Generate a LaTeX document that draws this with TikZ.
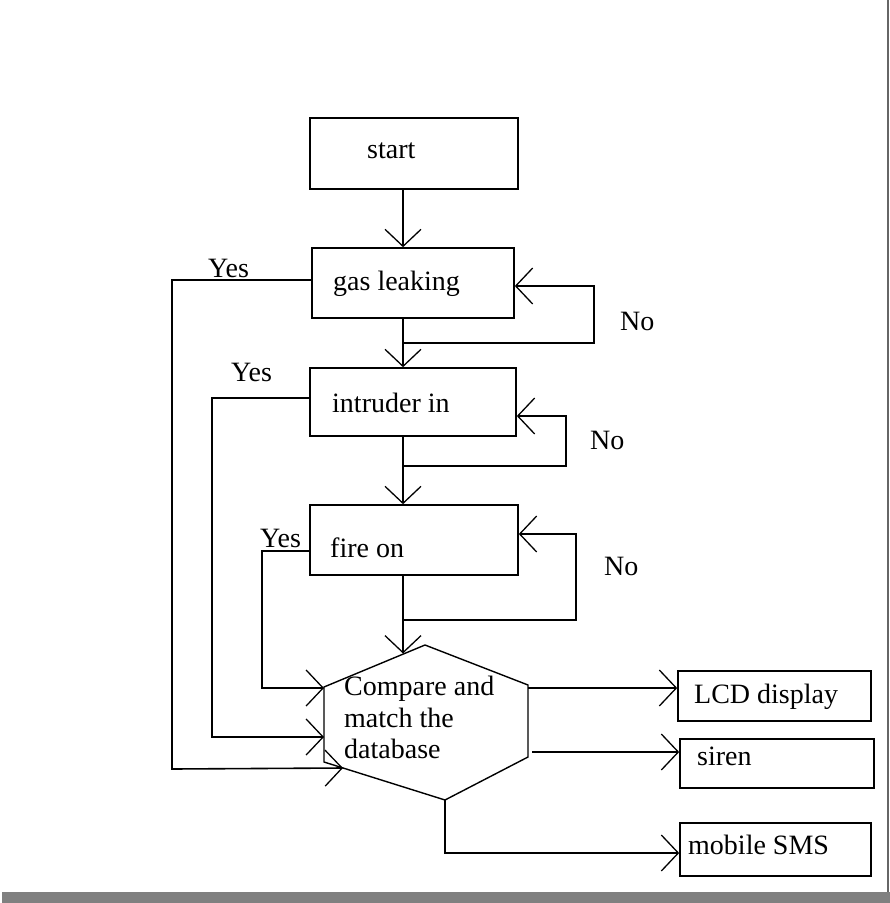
\documentclass[tikz,border=0pt]{standalone}
\usepackage{fontspec}
\setmainfont{Liberation Serif}
\usetikzlibrary{arrows.meta,calc}
\begin{document}
\begin{tikzpicture}[x=1pt,y=-1pt,
  line/.style={line width=1.6pt, draw=black},
  arr/.style={line, -{Straight Barb[length=17pt,width=36pt,line width=1.3pt]}},
  box/.style={draw=black, line width=1.6pt, rectangle, inner sep=0pt},
  txt/.style={anchor=base west, inner sep=0pt, font=\fontsize{28}{32}\selectfont}]
\useasboundingbox (0,0) rectangle (890,903);
\fill[white] (0,0) rectangle (890,903);
% frame bits
\fill[gray] (2,892) rectangle (890,903);
\draw[gray!80!black, line width=1.5pt] (888,0) -- (888,892);

% boxes
\node[box, minimum width=208pt, minimum height=71pt] (start) at (414,153.5) {};
\node[box, minimum width=202pt, minimum height=70pt] (gas) at (413,283) {};
\node[box, minimum width=206pt, minimum height=68pt] (intr) at (413,402) {};
\node[box, minimum width=208pt, minimum height=70pt] (fire) at (414,540) {};
\node[box, minimum width=193pt, minimum height=50pt] (lcd) at (774.5,696) {};
\node[box, minimum width=194pt, minimum height=49pt] (siren) at (777,763.5) {};
\node[box, minimum width=191pt, minimum height=53pt] (sms) at (775.5,849.5) {};

% texts
\node[txt] (tstart) at (367,158) {start};
\node[txt] (tgas) at (333,290) {gas leaking};
\node[txt] (tintr) at (332,412) {intruder in};
\node[txt] (tfire) at (330,557) {fire on};
\node[txt] (tlcd) at (694,703) {LCD display};
\node[txt] (tsiren) at (697,765) {siren};
\node[txt] (tsms) at (688,854) {mobile SMS};
\node[txt] (hex) at (344,695) {Compare and};
\node[txt] (hex2) at (344,727) {match the};
\node[txt] (hex3) at (344,758) {database};
\node[txt] (yes1) at (208,277) {Yes};
\node[txt] (yes2) at (231,381) {Yes};
\node[txt] (yes3) at (260,547) {Yes};
\node[txt] (no1) at (620,330) {No};
\node[txt] (no2) at (590,449) {No};
\node[txt] (no3) at (604,575) {No};

% hexagon
\coordinate (h1) at (425,645);
\coordinate (h2) at (528,685);
\coordinate (h3) at (528,757);
\coordinate (h4) at (445,800);
\coordinate (h5) at (324,762);
\coordinate (h6) at (324,687);
\draw[line, line width=1.4pt] (h1) -- (h2) -- (h3) -- (h4) -- (h5) -- (h6) -- cycle;

% spine
\coordinate (sp) at (403,0);
\coordinate (j1) at (403,343);
\coordinate (j2) at (403,466);
\coordinate (j3) at (403,620);
\coordinate (hexTop) at (403,653.5);

\draw[arr] (start.south -| sp) -- (gas.north -| sp);
\draw[line] (gas.south -| sp) -- (j1);
\draw[arr] (j1) -- (intr.north -| sp);
\draw[line] (intr.south -| sp) -- (j2);
\draw[arr] (j2) -- (fire.north -| sp);
\draw[line] (fire.south -| sp) -- (j3);
\draw[arr] (j3) -- (hexTop);

% No loops
\draw[arr] (j1) -- (594,343) -- (594,286) -- (gas.east |- 0,286);
\draw[arr] (j2) -- (566,466) -- (566,416) -- (intr.east |- 0,416);
\draw[arr] (j3) -- (576,620) -- (576,534) -- (fire.east |- 0,534);

% Yes lines
\coordinate (in1) at (343,768);
\coordinate (in2) at (324,737);
\coordinate (in3) at (324,688);
\draw[arr] (gas.west |- 0,280) -- (172,280) -- (172,769) -- (in1);
\draw[arr] (intr.west |- 0,398) -- (212,398) -- (212,737) -- (in2);
\draw[arr] (fire.west |- 0,551) -- (262,551) -- (262,688) -- (in3);

% outputs
\draw[arr] (528,688) -- (lcd.west |- 0,688);
\draw[arr] (532,752) -- (siren.west |- 0,752);
\draw[arr] (h4) -- (445,853) -- (sms.west |- 0,853);
\end{tikzpicture}
\end{document}
